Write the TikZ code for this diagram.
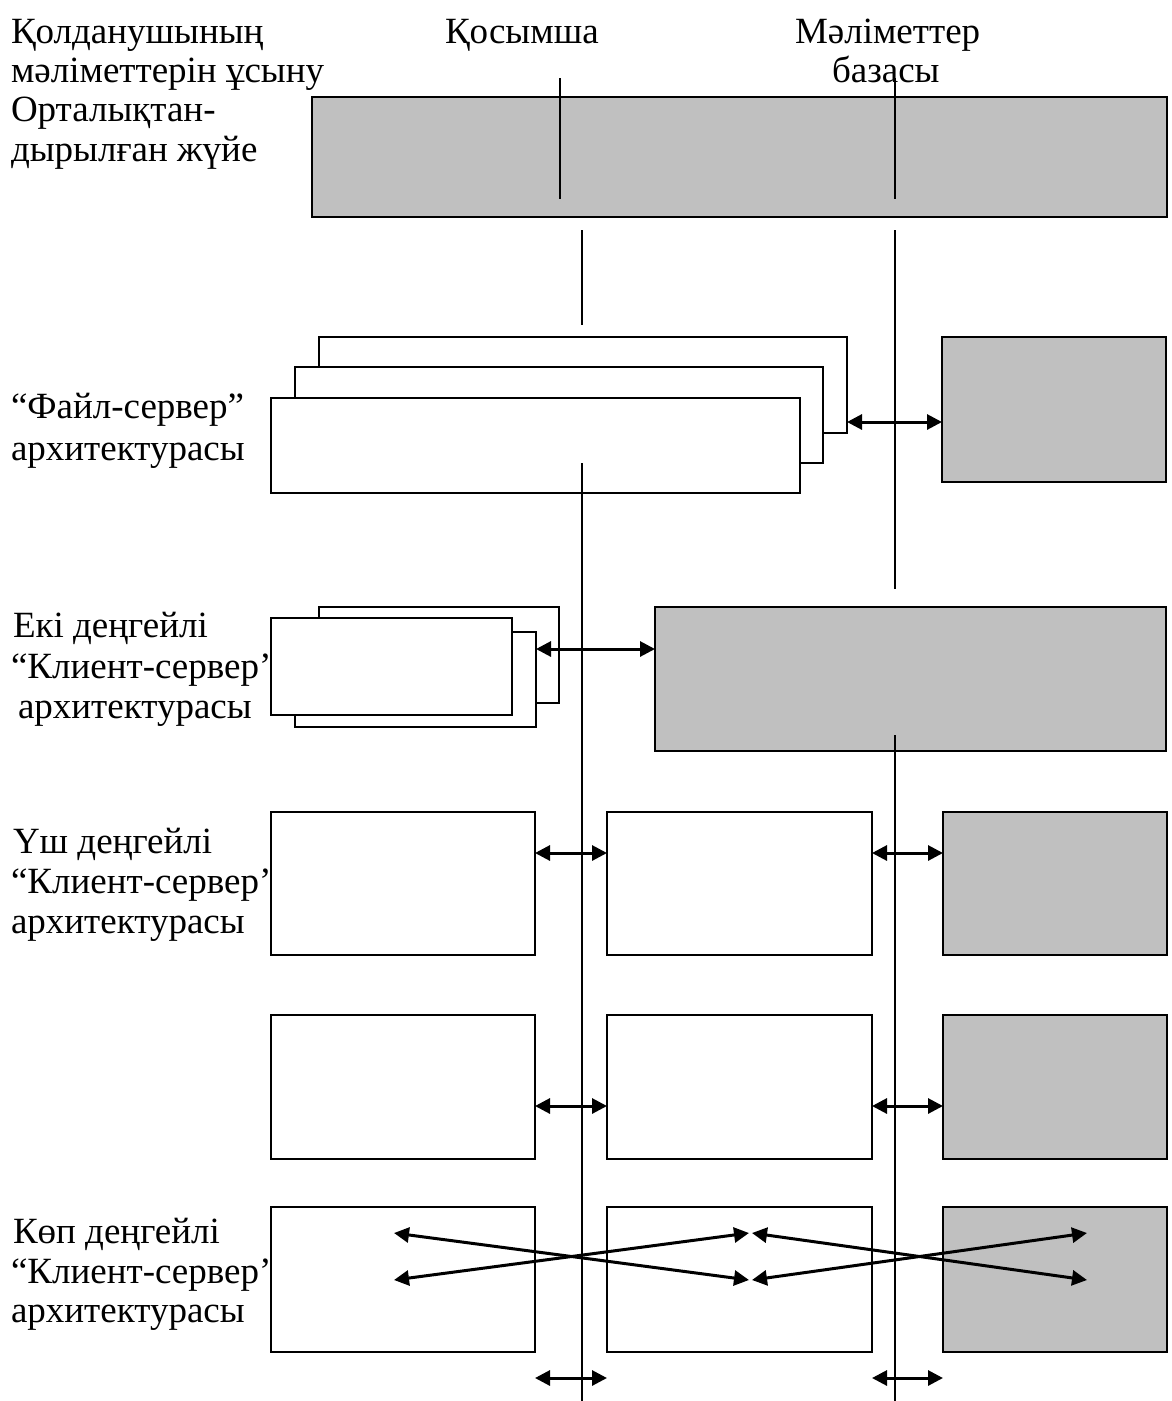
\documentclass[tikz,border=0pt]{standalone}
\usepackage{fontspec}
\setmainfont{Liberation Serif}
\usetikzlibrary{arrows.meta}
\definecolor{boxgray}{RGB}{192,192,192}
\begin{document}
\begin{tikzpicture}[x=1pt,y=-1pt,
  lbl/.style={anchor=base west, inner sep=0pt, outer sep=0pt, font=\fontsize{37}{42}\selectfont},
  wbox/.style={draw, fill=white, line width=2pt, inner sep=0pt, outer sep=0pt, anchor=north west},
  gbox/.style={wbox, fill=boxgray},
  lane/.style={line width=2pt},
  dbl/.style={line width=3pt, {Triangle[length=15pt,width=15pt]}-{Triangle[length=15pt,width=15pt]}}
]
\useasboundingbox (0,0) rectangle (1171,1401);

% column and row labels
\node[lbl] (t1) at (11,43)  {Қолданушының};
\node[lbl] (t2) at (11,82)  {мәліметтерін ұсыну};
\node[lbl] (t3) at (11,121) {Орталықтан-};
\node[lbl] (t4) at (11,161) {дырылған жүйе};
\node[lbl] (hApp) at (445,43) {Қосымша};
\node[lbl] (hDb1) at (795,43) {Мәліметтер};
\node[lbl] (hDb2) at (832,82) {базасы};

\node[lbl] (f1) at (11,418) {“Файл-сервер”};
\node[lbl] (f2) at (11,460) {архитектурасы};
\node[lbl] (e1) at (13,637) {Екі деңгейлі};
\node[lbl] (e2) at (11,678) {“Клиент-сервер’};
\node[lbl] (e3) at (18,718) {архитектурасы};
\node[lbl] (u1) at (13,853) {Үш деңгейлі};
\node[lbl] (u2) at (11,893) {“Клиент-сервер’};
\node[lbl] (u3) at (11,933) {архитектурасы};
\node[lbl] (k1) at (13,1243) {Көп деңгейлі};
\node[lbl] (k2) at (11,1283) {“Клиент-сервер’};
\node[lbl] (k3) at (11,1322) {архитектурасы};

% centralised system
\node[gbox, minimum width=855pt, minimum height=120pt] (top) at (312,97) {};

% file-server architecture
\node[wbox, minimum width=528pt, minimum height=96pt] (fsBack)  at (319,337) {};
\node[wbox, minimum width=528pt, minimum height=96pt] (fsMid)   at (295,367) {};
\node[wbox, minimum width=529pt, minimum height=95pt] (fsFront) at (271,398) {};
\node[gbox, minimum width=224pt, minimum height=145pt] (fsDb)   at (942,337) {};

% two-tier client-server
\node[wbox, minimum width=240pt, minimum height=96pt] (ttBack)  at (319,607) {};
\node[wbox, minimum width=241pt, minimum height=95pt] (ttMid)   at (295,632) {};
\node[wbox, minimum width=241pt, minimum height=97pt] (ttFront) at (271,618) {};
\node[gbox, minimum width=511pt, minimum height=144pt] (ttDb)   at (655,607) {};

% three-tier client-server, two rows
\node[wbox, minimum width=264pt, minimum height=143pt] (aL) at (271,812) {};
\node[wbox, minimum width=265pt, minimum height=143pt] (aM) at (607,812) {};
\node[gbox, minimum width=224pt, minimum height=143pt] (aR) at (943,812) {};
\node[wbox, minimum width=264pt, minimum height=144pt] (bL) at (271,1015) {};
\node[wbox, minimum width=265pt, minimum height=144pt] (bM) at (607,1015) {};
\node[gbox, minimum width=224pt, minimum height=144pt] (bR) at (943,1015) {};

% multi-tier client-server
\node[wbox, minimum width=264pt, minimum height=145pt] (cL) at (271,1207) {};
\node[wbox, minimum width=265pt, minimum height=145pt] (cM) at (607,1207) {};
\node[gbox, minimum width=224pt, minimum height=145pt] (cR) at (943,1207) {};

% tier boundary lines
\draw[lane] (560,78) -- (560,199);
\draw[lane] (895,78) -- (895,199);
\draw[lane] (582,230) -- (582,325);
\draw[lane] (895,230) -- (895,589);
\draw[lane] (582,463) -- (582,1401);
\draw[lane] (895,735) -- (895,1401);

% links
\draw[dbl] (fsBack.east |- 0,422) -- (fsDb.west |- 0,422);
\draw[dbl] (ttMid.east |- 0,649) -- (ttDb.west |- 0,649);
\draw[dbl] (aL.east |- 0,853) -- (aM.west |- 0,853);
\draw[dbl] (aM.east |- 0,853) -- (aR.west |- 0,853);
\draw[dbl] (bL.east |- 0,1106) -- (bM.west |- 0,1106);
\draw[dbl] (bM.east |- 0,1106) -- (bR.west |- 0,1106);
\draw[dbl] (cL.east |- 0,1378) -- (cM.west |- 0,1378);
\draw[dbl] (cM.east |- 0,1378) -- (cR.west |- 0,1378);

% crossing links of the multi-tier row
\coordinate (p1) at (394,1233);
\coordinate (p2) at (394,1280);
\coordinate (q1) at (749,1233);
\coordinate (q2) at (749,1280);
\coordinate (r1) at (752,1233);
\coordinate (r2) at (752,1280);
\coordinate (s1) at (1087,1233);
\coordinate (s2) at (1087,1280);
\draw[dbl] (p1) -- (q2);
\draw[dbl] (p2) -- (q1);
\draw[dbl] (r1) -- (s2);
\draw[dbl] (r2) -- (s1);
\end{tikzpicture}
\end{document}
